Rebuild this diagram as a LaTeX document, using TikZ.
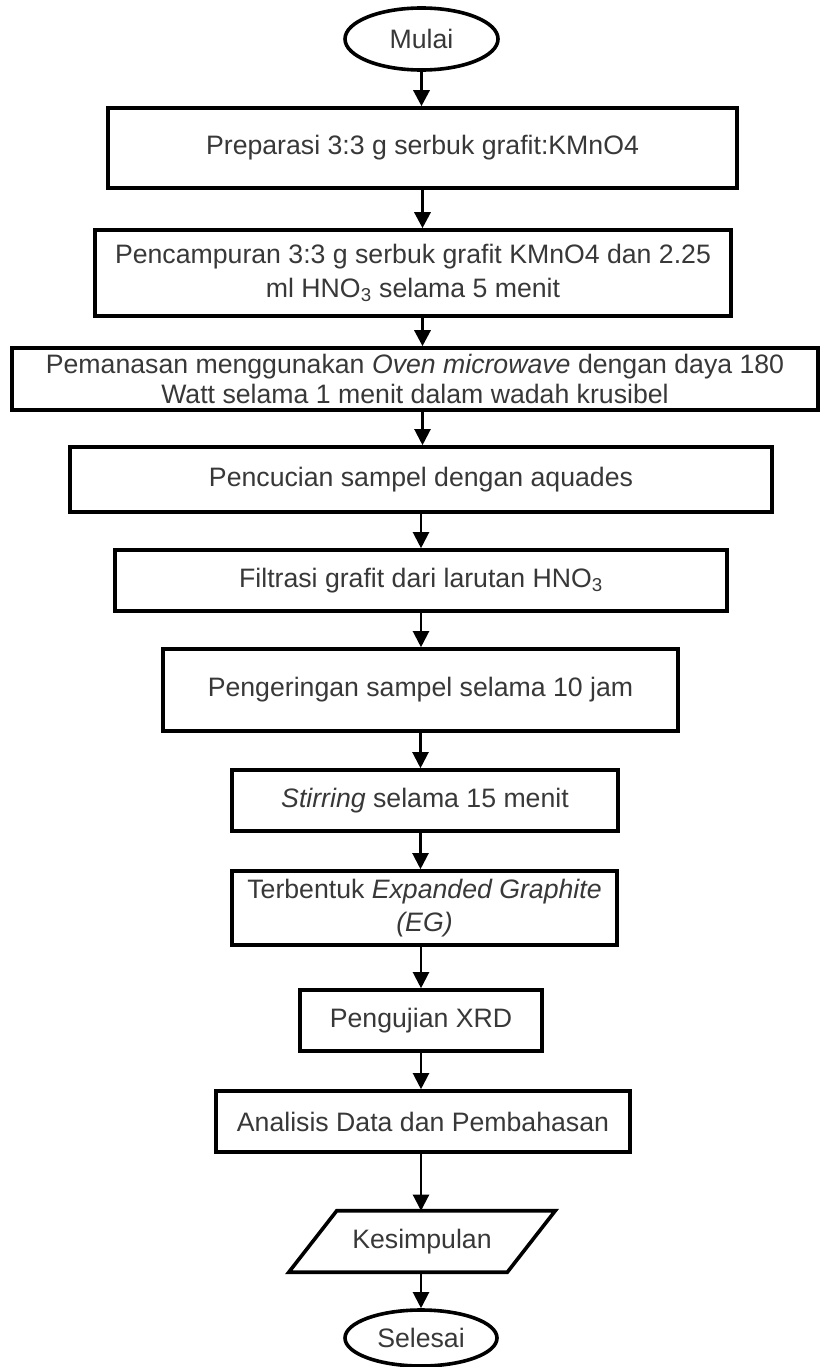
\documentclass[tikz,border=0pt]{standalone}
\usepackage{fontspec}
\setmainfont{Liberation Sans}
\usetikzlibrary{arrows.meta,shapes.geometric}
\begin{document}
\begin{tikzpicture}[x=0.75pt,y=-0.75pt,
  every node/.style={font=\fontsize{20pt}{23pt}\selectfont, text=black!78, align=center, inner sep=0pt},
  box/.style={draw=black, line width=2.7pt, rectangle},
  term/.style={draw=black, line width=2.7pt, ellipse},
  heavyarrow/.style={draw=black, line width=2.4pt, -{Triangle[length=12pt,width=12pt]}},
  lightarrow/.style={draw=black, line width=1.6pt, -{Triangle[length=12pt,width=12pt]}}]
\fill[white] (0,0) rectangle (822,1367);
\useasboundingbox (0,0) rectangle (822,1367);

\node[term, minimum width=114.75pt, minimum height=46.5pt] (mulai) at (421.5,39) {Mulai};
\node[box, minimum width=471.75pt, minimum height=60pt] (b1) at (422.5,148) {Preparasi 3:3 g serbuk grafit:KMnO4};
\node[box, minimum width=477pt, minimum height=64.5pt, font=\fontsize{20pt}{25pt}\selectfont] (b2) at (413,273) {Pencampuran 3:3 g serbuk grafit KMnO4 dan 2.25\\ml HNO\textsubscript{3} selama 5 menit};
\node[box, minimum width=604.5pt, minimum height=46.5pt] (b3) at (415,379) {Pemanasan menggunakan \textit{Oven microwave} dengan daya 180\\Watt selama 1 menit dalam wadah krusibel};
\node[box, minimum width=526.5pt, minimum height=48.75pt] (b4) at (421,479.5) {Pencucian sampel dengan aquades};
\node[box, minimum width=459pt, minimum height=45.75pt] (b5) at (421,580.5) {Filtrasi grafit dari larutan HNO\textsubscript{3}};
\node[box, minimum width=386.25pt, minimum height=61.5pt] (b6) at (420.5,690) {Pengeringan sampel selama 10 jam};
\node[box, minimum width=289.5pt, minimum height=45.75pt] (b7) at (425,800.5) {\textit{Stirring} selama 15 menit};
\node[box, minimum width=288.75pt, minimum height=55.5pt, font=\fontsize{20pt}{25pt}\selectfont] (b8) at (424.5,908) {Terbentuk \textit{Expanded Graphite}\\\textit{(EG)}};
\node[box, minimum width=181.5pt, minimum height=45.75pt] (b9) at (421,1020.5) {Pengujian XRD};
\node[box, minimum width=310.5pt, minimum height=45.75pt] (b10) at (423,1121.5) {Analisis Data dan Pembahasan};
\node[minimum width=163.5pt, minimum height=45.75pt] (kes) at (422,1241.5) {Kesimpulan};
\draw[line width=2.7pt, line join=miter] ([xshift=18pt]kes.north west) -- ([xshift=18pt]kes.north east) -- ([xshift=-18pt]kes.south east) -- ([xshift=-18pt]kes.south west) -- cycle;
\node[term, minimum width=114pt, minimum height=42pt] (selesai) at (421,1338) {Selesai};

\draw[heavyarrow] (mulai.south) -- (mulai.south |- b1.north);
\draw[heavyarrow] (b1.south) -- (b1.south |- b2.north);
\draw[heavyarrow] (b2.south -| b1.south) -- (b1.south |- b3.north);
\draw[lightarrow] (b3.south -| b1.south) -- (b1.south |- b4.north);
\draw[lightarrow] (b4.south) -- (b4.south |- b5.north);
\draw[lightarrow] (b5.south) -- (b5.south |- b6.north);
\draw[lightarrow] (b6.south) -- (b6.south |- b7.north);
\draw[lightarrow] (b7.south -| b6.south) -- (b6.south |- b8.north);
\draw[lightarrow] (b8.south -| b9.south) -- (b9.north);
\draw[lightarrow] (b9.south) -- (b9.south |- b10.north);
\draw[lightarrow] (b10.south -| b9.south) -- (b9.south |- kes.north);
\draw[lightarrow] (kes.south -| b9.south) -- (selesai.north);
\end{tikzpicture}
\end{document}
